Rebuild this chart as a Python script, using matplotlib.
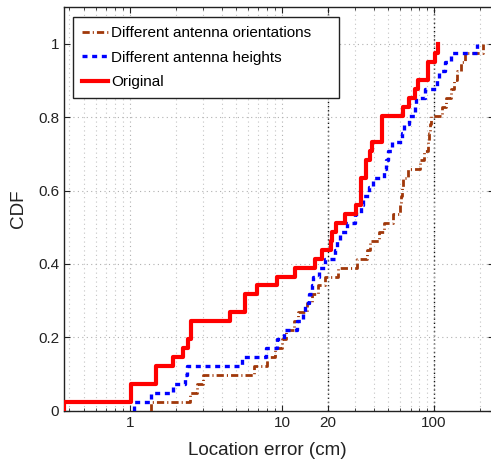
import numpy as np
import matplotlib
matplotlib.use('Agg')
import matplotlib.pyplot as plt
from matplotlib.ticker import LogLocator, NullFormatter

# Location error samples (cm)
orig_err = [0.37, 1.02, 1.02, 1.48, 1.48, 1.91, 2.24, 2.39, 2.52, 2.52,
            4.57, 5.69, 5.69, 6.86, 9.31, 12.2, 16.4, 18.3, 21.0, 21.3,
            22.7, 26.1, 30.8, 33.2, 33.2, 33.2, 35.8, 35.8, 37.7, 38.8,
            45.3, 45.3, 45.3, 62.1, 68.6, 74.8, 78.7, 91.7, 91.7, 101.6,
            106.8]
height_err = [1.06, 1.38, 1.91, 2.30, 2.36, 5.46, 7.80, 9.31, 10.3, 12.6,
              13.8, 14.2, 15.1, 15.8, 16.0, 17.6, 19.3, 22.4, 23.1, 23.9,
              26.9, 30.4, 32.9, 33.9, 37.1, 39.4, 46.7, 48.1, 49.6, 52.7,
              61.4, 63.3, 68.3, 74.8, 76.0, 87.2, 104.7, 108.0, 118.3, 129.6,
              192.7]
orient_err = [1.38, 2.49, 2.74, 3.00, 6.53, 7.96, 8.99, 10.0, 10.6, 12.0,
              12.8, 14.6, 15.8, 17.3, 19.3, 23.5, 30.9, 36.0, 37.7, 43.2,
              46.7, 53.5, 59.6, 60.4, 61.4, 62.3, 67.3, 80.8, 85.9, 91.2,
              92.7, 94.1, 95.5, 113.0, 120.0, 130.0, 135.6, 142.0, 151.0, 160.0,
              211.0]

labels = ['Different antenna orientations', 'Different antenna heights', 'Original']
xticks = [1, 10, 20, 100]
yticks = [0, 0.2, 0.4, 0.6, 0.8, 1]
dark_grid = [20, 100]


def cdf_steps(vals):
    v = np.sort(np.asarray(vals, dtype=float))
    n = len(v)
    xs = np.repeat(v, 2)
    ys = np.concatenate([[0], np.repeat(np.arange(1, n) / n, 2), [1]])
    return xs, ys


plt.rcParams['font.family'] = ['Liberation Sans', 'DejaVu Sans']

fig = plt.figure(figsize=(4.91, 4.63), dpi=100)
ax = fig.add_axes([0.1303, 0.113, 0.876, 0.8713])

ax.set_xscale('log')
ax.set_xlim(0.368, 248)
ax.set_ylim(0, 1.1)

# grid: dotted, minor on x
ax.xaxis.set_minor_locator(LogLocator(base=10, subs=np.arange(2, 10), numticks=20))
ax.xaxis.set_minor_formatter(NullFormatter())
ax.grid(True, which='minor', axis='x', linestyle=(0, (1, 3)), color='#c4c4c4', lw=0.8)
ax.grid(True, which='major', axis='both', linestyle=(0, (1, 3)), color='#b0b0b0', lw=0.8)
for g in dark_grid:
    ax.axvline(g, color='#111111', linestyle=(0, (1, 2)), lw=1.0, zorder=1)

xs, ys = cdf_steps(orient_err)
ax.plot(xs, ys, color='#a0380a', lw=2.0, dashes=(2.6, 1.1, 0.4, 1.1), label=labels[0], zorder=3)
xs, ys = cdf_steps(height_err)
ax.plot(xs, ys, color='#0000ff', lw=2.4, dashes=(1.5, 1.4), label=labels[1], zorder=4)
xs, ys = cdf_steps(orig_err)
ax.plot(xs, ys, color='#ff0000', lw=3.0, label=labels[2], zorder=5)

ax.set_xticks(xticks)
ax.set_xticklabels([str(t) for t in xticks])
ax.set_yticks(yticks)
ax.set_yticklabels(['0', '0.2', '0.4', '0.6', '0.8', '1'])
ax.tick_params(which='both', direction='in', top=True, right=True, labelsize=11, colors='#222222')
ax.tick_params(which='major', length=4)
ax.tick_params(which='minor', length=2.5)
for s in ax.spines.values():
    s.set_color('#222222')
    s.set_linewidth(1.0)

ax.set_xlabel('Location error (cm)', fontsize=13.6, color='#222222')
ax.xaxis.set_label_coords(0.473, -0.078)
ax.set_ylabel('CDF', fontsize=13.6, color='#222222', labelpad=8)

# legend box stretched to the reference width
leg = ax.legend(loc='upper left', bbox_to_anchor=(0.021, 0.5, 0.619, 0.476), mode='expand',
                borderaxespad=0, fontsize=11, handlelength=1.7, handletextpad=0.2,
                labelspacing=0.68, borderpad=0.6, fancybox=False, framealpha=1,
                edgecolor='#222222')
leg.get_frame().set_linewidth(1.0)

plt.savefig('out.png', dpi=100)
plt.close()
